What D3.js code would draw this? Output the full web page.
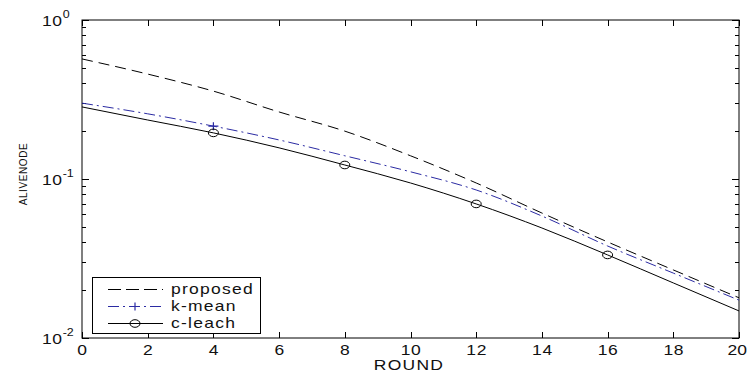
<!DOCTYPE html>
<html><head><meta charset="utf-8">
<script src="https://cdn.jsdelivr.net/npm/d3@7"></script>
<style>
html,body{margin:0;padding:0;background:#fff;}
svg{display:block;}
text{font-family:"Liberation Sans",Arial,sans-serif;fill:#111;}
</style></head>
<body>
<svg id="chart" width="748" height="374"></svg>
<script>
// ---- data ----
const rounds   = [0, 2, 4, 6, 8, 10, 12, 14, 16, 18, 20];
const proposed = [0.569, 0.457, 0.357, 0.264, 0.200, 0.140, 0.0944, 0.0611, 0.0402, 0.0268, 0.0179];
const kmean    = [0.300, 0.257, 0.215, 0.176, 0.140, 0.111, 0.0853, 0.0585, 0.0379, 0.0256, 0.0173];
const cleach   = [0.284, 0.235, 0.195, 0.157, 0.1225, 0.0944, 0.0697, 0.0492, 0.0333, 0.0222, 0.0148];
const kmeanMarkerRounds  = [4];
const cleachMarkerRounds = [4, 8, 12, 16];
const xTicks = [0, 2, 4, 6, 8, 10, 12, 14, 16, 18, 20];
const yTickExps = [0, -1, -2];
const seriesNames = ["proposed", "k-mean", "c-leach"];

const svg = d3.select("#chart");
const L = 82, R = 739, T = 20, B = 338;
const x = d3.scaleLinear().domain([0, 20]).range([L, R]);
const y = d3.scaleLog().domain([0.01, 1]).range([B, T]);

const blue = "#2b2ba3";
const SX = 1.25;

function wideText(px, py, anchor, size, spacing, str) {
  return svg.append("text").attr("transform", `translate(${px},${py}) scale(${SX},1)`)
    .attr("text-anchor", anchor).attr("font-size", size).attr("letter-spacing", spacing).text(str);
}

// box
svg.append("rect").attr("x", L).attr("y", T).attr("width", R - L).attr("height", B - T)
  .attr("fill", "#fff").attr("stroke", "#000").attr("stroke-width", 1);

// x ticks (bottom & top, inward)
const g = svg.append("g").attr("stroke", "#000").attr("stroke-width", 1);
xTicks.forEach((t, i) => {
  const px = Math.round(x(t)) + 0.5;
  g.append("line").attr("x1", px).attr("x2", px).attr("y1", B).attr("y2", B - 6);
  g.append("line").attr("x1", px).attr("x2", px).attr("y1", T).attr("y2", T + 6);
  if (i === xTicks.length - 1) wideText(747, 355, "end", 14, 0, t);
  else wideText(x(t) + 0.5, 355, "middle", 14, 0.5, t);
});

// y ticks: major and minor
const majors = yTickExps.map(e => Math.pow(10, e));
majors.forEach(v => {
  const py = Math.round(y(v)) + 0.5;
  g.append("line").attr("x1", L).attr("x2", L + 7).attr("y1", py).attr("y2", py);
  g.append("line").attr("x1", R).attr("x2", R - 7).attr("y1", py).attr("y2", py);
});
[0.01, 0.1].forEach(base => {
  for (let k = 2; k <= 9; k++) {
    const py = Math.round(y(base * k)) + 0.5;
    g.append("line").attr("x1", L).attr("x2", L + 4).attr("y1", py).attr("y2", py);
    g.append("line").attr("x1", R).attr("x2", R - 4).attr("y1", py).attr("y2", py);
  }
});

// y tick labels 10^e
yTickExps.forEach(e => {
  const py = y(Math.pow(10, e));
  const t = svg.append("text").attr("transform", `translate(42,${py + 6}) scale(${SX},1)`).attr("font-size", 14);
  t.append("tspan").attr("letter-spacing", 0.5).text("10");
  t.append("tspan").attr("font-size", 10).attr("dx", 0).attr("dy", -8).text(String(e));
});

// axis labels
wideText(409, 370, "middle", 14, 1, "ROUND");
svg.append("text").attr("transform", "translate(27,174) rotate(-90)").attr("text-anchor", "middle")
  .attr("font-size", 10).attr("letter-spacing", 0.6).text("ALIVENODE");

// lines
const line = d3.line().x(d => x(d[0])).y(d => y(d[1])).curve(d3.curveMonotoneX);
const zip = arr => rounds.map((r, i) => [r, arr[i]]);
const plot = svg.append("g").attr("fill", "none").attr("stroke-width", 1);
plot.append("path").attr("d", line(zip(proposed))).attr("stroke", "#000").attr("stroke-dasharray", "11,6");
plot.append("path").attr("d", line(zip(kmean))).attr("stroke", blue).attr("stroke-dasharray", "11,4,2,4");
plot.append("path").attr("d", line(zip(cleach))).attr("stroke", "#000");

function plusAt(px, py, col) {
  svg.append("path").attr("d", `M${px-5},${py}H${px+5}M${px},${py-4}V${py+4}`)
    .attr("stroke", col).attr("stroke-width", 1.2).attr("fill", "none");
}
function circAt(px, py) {
  svg.append("ellipse").attr("cx", px).attr("cy", py).attr("rx", 5).attr("ry", 3.8)
    .attr("fill", "none").attr("stroke", "#000").attr("stroke-width", 1);
}
kmeanMarkerRounds.forEach(r => plusAt(x(r), y(kmean[rounds.indexOf(r)]), blue));
cleachMarkerRounds.forEach(r => circAt(x(r), y(cleach[rounds.indexOf(r)])));

// legend
const lg = svg.append("g");
lg.append("rect").attr("x", 92.5).attr("y", 277.5).attr("width", 168).attr("height", 56)
  .attr("fill", "#fff").attr("stroke", "#000").attr("stroke-width", 1);
const rowsY = [289, 306, 323];
const styles = [
  {stroke: "#000", dash: "13,5"},
  {stroke: blue, dash: "11,4,2,4"},
  {stroke: "#000", dash: null}
];
seriesNames.forEach((n, i) => {
  const ly = rowsY[i] + 0.5;
  const ln = lg.append("line").attr("x1", 108).attr("x2", 163).attr("y1", ly).attr("y2", ly)
    .attr("stroke", styles[i].stroke).attr("stroke-width", 1);
  if (styles[i].dash) ln.attr("stroke-dasharray", styles[i].dash);
  wideText(171, rowsY[i] + 5, "start", 14, 1, n);
});
plusAt(135, rowsY[1] + 0.5, blue);
circAt(135, rowsY[2] + 0.5);
</script>
</body></html>
